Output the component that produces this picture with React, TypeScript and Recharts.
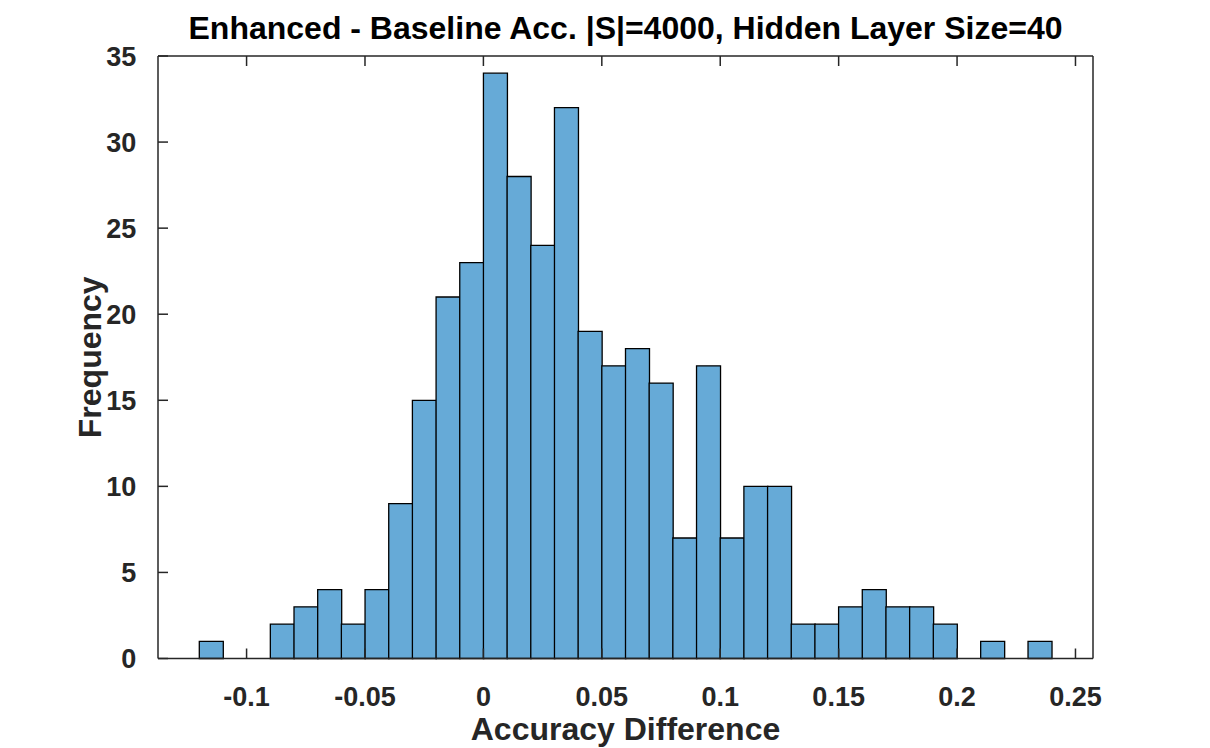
import {
  ComposedChart,
  Bar,
  XAxis,
  YAxis,
  Label,
} from 'recharts'

// histogram of accuracy differences, bin width 0.01 starting at -0.12
const binStarts = [
  -0.12, -0.11, -0.1, -0.09, -0.08, -0.07, -0.06, -0.05, -0.04, -0.03, -0.02, -0.01,
  0, 0.01, 0.02, 0.03, 0.04, 0.05, 0.06, 0.07, 0.08, 0.09, 0.1, 0.11,
  0.12, 0.13, 0.14, 0.15, 0.16, 0.17, 0.18, 0.19, 0.2, 0.21, 0.22, 0.23,
]
const counts = [
  1, 0, 0, 2, 3, 4, 2, 4, 9, 15, 21, 23,
  34, 28, 24, 32, 19, 17, 18, 16, 7, 17, 7, 10,
  10, 2, 2, 3, 4, 3, 3, 2, 0, 1, 0, 1,
]
const xTicks = [-0.1, -0.05, 0, 0.05, 0.1, 0.15, 0.2, 0.25]
const yTicks = [0, 5, 10, 15, 20, 25, 30, 35]
const xDomain = [-0.1374, 0.2574]

const chartData = binStarts.map((b, i) => ({
  bin: String(i),
  x: b + 0.005,
  count: counts[i],
}))

const FONT = '"Liberation Sans", Arial, Helvetica, sans-serif'
const AXIS = '#262626'
const TICK_LEN = 10
const X_MARGIN = 28
const Y_MARGIN = 21.7
const labelStyle = { fontSize: 32, fontWeight: 700, fill: AXIS, fontFamily: FONT }

// matlab style: ticks point into the plot box
function BottomTick(props: any) {
  const { x, y, payload } = props
  const axisY = y - X_MARGIN
  return (
    <g>
      <line x1={x} y1={axisY} x2={x} y2={axisY - TICK_LEN} stroke={AXIS} strokeWidth={1.5} />
      <text x={x} y={y} dy="0.71em" textAnchor="middle" fontSize={27} fontWeight={700} fill={AXIS} fontFamily={FONT}>
        {String(payload.value)}
      </text>
    </g>
  )
}

function TopTick(props: any) {
  const { x, y } = props
  return <line x1={x} y1={y} x2={x} y2={y + TICK_LEN} stroke={AXIS} strokeWidth={1.5} />
}

function LeftTick(props: any) {
  const { x, y, payload } = props
  const axisX = x + Y_MARGIN
  return (
    <g>
      <line x1={axisX} y1={y} x2={axisX + TICK_LEN} y2={y} stroke={AXIS} strokeWidth={1.5} />
      <text x={x} y={y} dy="0.355em" textAnchor="end" fontSize={27} fontWeight={700} fill={AXIS} fontFamily={FONT}>
        {String(payload.value)}
      </text>
    </g>
  )
}

function RightTick(props: any) {
  const { x, y } = props
  return <line x1={x} y1={y} x2={x - TICK_LEN} y2={y} stroke={AXIS} strokeWidth={1.5} />
}

export default function App() {
  return (
    <div style={{ position: 'absolute', left: 0, top: 0, background: '#fff' }}>
      <ComposedChart
        width={1210}
        height={748}
        data={chartData}
        margin={{ top: 55, right: 116, left: 0, bottom: 0 }}
        barCategoryGap={0}
        barGap={0}
      >
        <XAxis
          xAxisId="cat"
          dataKey="bin"
          type="category"
          hide
          height={0}
          padding={{ left: 41.3, right: 41.3 }}
        />
        <XAxis
          xAxisId="num"
          dataKey="x"
          type="number"
          domain={xDomain}
          allowDataOverflow
          ticks={xTicks}
          interval={0}
          height={89.5}
          tickSize={0}
          tickLine={false}
          tickMargin={X_MARGIN}
          tick={<BottomTick />}
          stroke={AXIS}
          strokeWidth={1.5}
        >
          <Label value="Accuracy Difference" position="insideBottom" offset={8.5} style={labelStyle} />
        </XAxis>
        <XAxis
          xAxisId="top"
          dataKey="x"
          type="number"
          orientation="top"
          domain={xDomain}
          allowDataOverflow
          ticks={xTicks}
          interval={0}
          height={1}
          tickSize={0}
          tickMargin={0}
          tickLine={false}
          tick={<TopTick />}
          stroke={AXIS}
          strokeWidth={1.5}
        >
          <Label
            value="Enhanced - Baseline Acc. |S|=4000, Hidden Layer Size=40"
            position="top"
            offset={15.7}
            style={{ ...labelStyle, fill: '#000' }}
          />
        </XAxis>
        <YAxis
          yAxisId="left"
          domain={[0, 35]}
          ticks={yTicks}
          interval={0}
          width={158}
          tickSize={0}
          tickLine={false}
          tickMargin={Y_MARGIN}
          tick={<LeftTick />}
          stroke={AXIS}
          strokeWidth={1.5}
        >
          <Label
            value="Frequency"
            angle={-90}
            position="insideLeft"
            offset={90}
            style={{ ...labelStyle, textAnchor: 'middle' }}
          />
        </YAxis>
        <YAxis
          yAxisId="right"
          orientation="right"
          domain={[0, 35]}
          ticks={yTicks}
          interval={0}
          width={1}
          tickSize={0}
          tickMargin={0}
          tickLine={false}
          tick={<RightTick />}
          stroke={AXIS}
          strokeWidth={1.5}
        />
        <Bar
          xAxisId="cat"
          yAxisId="left"
          dataKey="count"
          fill="#66AAD7"
          stroke="#000"
          strokeWidth={1.3}
          isAnimationActive={false}
        />
      </ComposedChart>
    </div>
  )
}
